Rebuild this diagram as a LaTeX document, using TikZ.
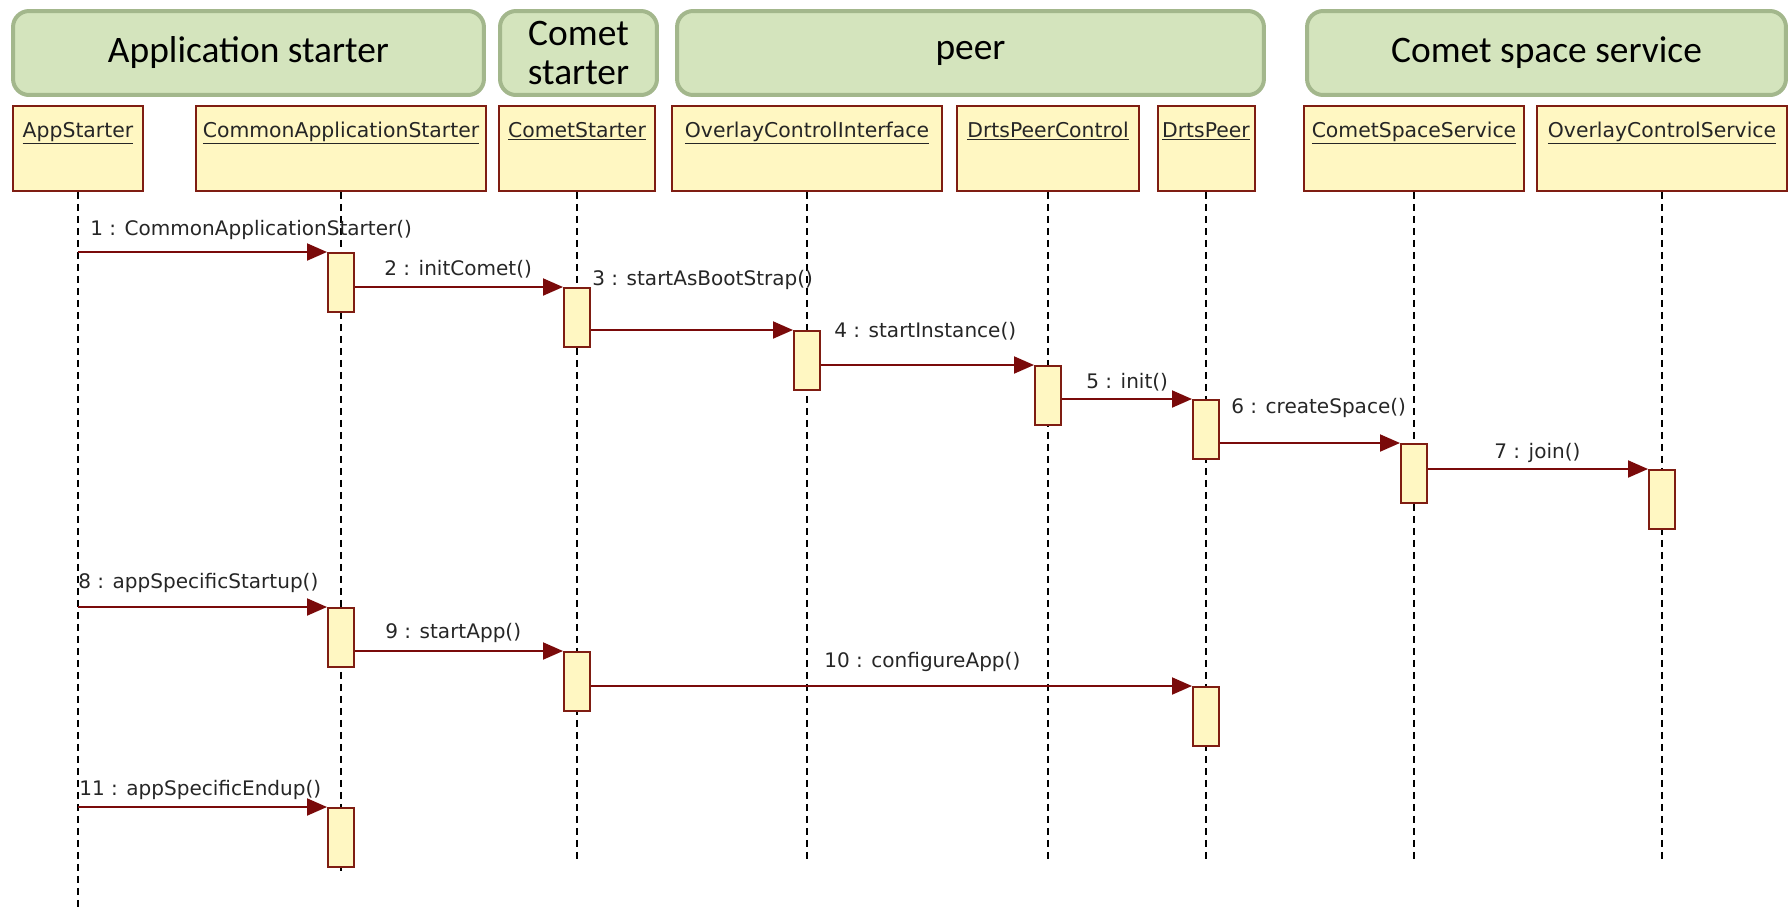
\documentclass[tikz,border=0pt]{standalone}
\usepackage{fontspec}
\setmainfont{Carlito}
\newfontfamily\umlfont{DejaVu Sans}
\usepackage{tikz}
\usetikzlibrary{arrows.meta, positioning}

\definecolor{groupfill}{HTML}{D4E4BD}
\definecolor{groupline}{HTML}{A3B78C}
\definecolor{headfill}{HTML}{FFF7C2}
\definecolor{umlred}{HTML}{7F1D12}
\definecolor{msgred}{HTML}{7A0A0A}

\begin{document}
\begin{tikzpicture}[
    x=0.02cm, y=-0.02cm,
    group/.style={draw=groupline, fill=groupfill, line width=0.08cm, rounded corners=0.32cm,
        minimum height=1.68cm, inner sep=0pt, align=center, font=\fontsize{21.3}{22.5}\selectfont},
    head/.style={draw=umlred, fill=headfill, line width=0.04cm, anchor=north, minimum height=1.7cm,
        inner xsep=0pt, inner ysep=0.2cm, text height=0.42cm, text depth=0.88cm,
        text=black!85, font=\umlfont\fontsize{11.6}{14}\selectfont},
    act/.style={draw=umlred, fill=headfill, line width=0.04cm, anchor=north,
        minimum width=0.52cm, minimum height=1.18cm, inner sep=0pt},
    life/.style={line width=0.035cm, dash pattern=on 0.14cm off 0.1cm},
    msg/.style={draw=msgred, line width=0.04cm, -{Triangle[length=0.4cm, width=0.34cm]}},
    msglbl/.style={anchor=base west, inner sep=0pt, text=black!85,
        font=\umlfont\fontsize{11.4}{14}\selectfont},
]
\useasboundingbox (0,0) rectangle (1792,907);

% groups
\node[group, minimum width=9.42cm] (gApp) at (248.5,53) {Application starter};
\node[group, minimum width=3.14cm] (gComet) at (578.5,53) {Comet\\starter};
\node[group, minimum width=11.74cm] (gPeer) at (970.5,53) {peer};
\node[group, minimum width=9.58cm] (gSpace) at (1546.5,53) {Comet space service};

% lifeline heads
\node[head, minimum width=2.6cm] (hApp) at (78,105) {\underline{AppStarter}};
\node[head, minimum width=5.82cm] (hCas) at (341,105) {\underline{CommonApplicationStarter}};
\node[head, minimum width=3.12cm] (hCs) at (577,105) {\underline{CometStarter}};
\node[head, minimum width=5.42cm] (hOci) at (807,105) {\underline{OverlayControlInterface}};
\node[head, minimum width=3.66cm] (hDpc) at (1048,105) {\underline{DrtsPeerControl}};
\node[head, minimum width=1.94cm] (hDp) at (1206,105) {\underline{DrtsPeer}};
\node[head, minimum width=4.4cm] (hCss) at (1414,105) {\underline{CometSpaceService}};
\node[head, minimum width=5.0cm] (hOcs) at (1662,105) {\underline{OverlayControlService}};

% lifelines
\draw[life] (hApp.south) -- ++(0,717);
\draw[life] (hCas.south) -- ++(0,682);
\foreach \n in {hCs, hOci, hDpc, hDp, hCss, hOcs}
    \draw[life] (\n.south) -- ++(0,668);

% activations
\node[act] (a1) at (hCas.south |- 0,252) {};
\node[act] (a2) at (hCs.south |- 0,287) {};
\node[act] (a3) at (hOci.south |- 0,330) {};
\node[act] (a4) at (hDpc.south |- 0,365) {};
\node[act] (a5) at (hDp.south |- 0,399) {};
\node[act] (a6) at (hCss.south |- 0,443) {};
\node[act] (a7) at (hOcs.south |- 0,469) {};
\node[act] (a8) at (hCas.south |- 0,607) {};
\node[act] (a9) at (hCs.south |- 0,651) {};
\node[act] (a10) at (hDp.south |- 0,686) {};
\node[act] (a11) at (hCas.south |- 0,807) {};

% messages
\draw[msg] (hApp |- a1.north) -- (a1.north west);
\draw[msg] (a1.east |- a2.north) -- (a2.north west);
\draw[msg] (a2.east |- a3.north) -- (a3.north west);
\draw[msg] (a3.east |- a4.north) -- (a4.north west);
\draw[msg] (a4.east |- a5.north) -- (a5.north west);
\draw[msg] (a5.east |- a6.north) -- (a6.north west);
\draw[msg] (a6.east |- a7.north) -- (a7.north west);
\draw[msg] (hApp |- a8.north) -- (a8.north west);
\draw[msg] (a8.east |- a9.north) -- (a9.north west);
\draw[msg] (a9.east |- a10.north) -- (a10.north west);
\draw[msg] (hApp |- a11.north) -- (a11.north west);

\node[msglbl] (m1) at (90,235) {1 : CommonApplicationStarter()};
\node[msglbl] (m2) at (384,275) {2 : initComet()};
\node[msglbl] (m3) at (592,285) {3 : startAsBootStrap()};
\node[msglbl] (m4) at (834,337) {4 : startInstance()};
\node[msglbl] (m5) at (1086,388) {5 : init()};
\node[msglbl] (m6) at (1231,413) {6 : createSpace()};
\node[msglbl] (m7) at (1494,458) {7 : join()};
\node[msglbl] (m8) at (78,588) {8 : appSpecificStartup()};
\node[msglbl] (m9) at (385,638) {9 : startApp()};
\node[msglbl] (m10) at (824,667) {10 : configureApp()};
\node[msglbl] (m11) at (79,795) {11 : appSpecificEndup()};

\end{tikzpicture}
\end{document}
